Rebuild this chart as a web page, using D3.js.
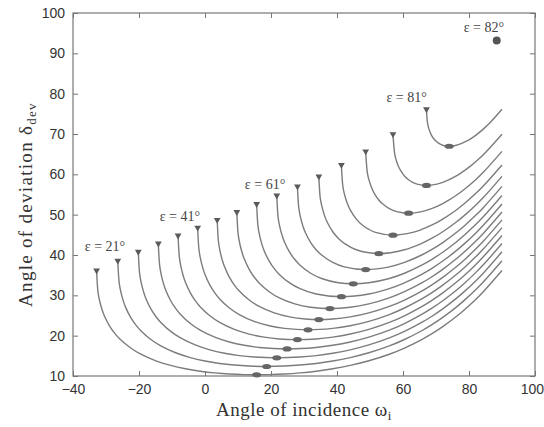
<!DOCTYPE html>
<meta charset="utf-8">
<style>
  body { margin: 0; background: #fff; }
  .tick text { font-family: "Liberation Sans", Arial, sans-serif; font-size: 14px; fill: #333; }
  .tick line { stroke: #777; }
  .title { font-family: "Liberation Serif", "Times New Roman", serif; font-size: 19px; fill: #333; }
  .lab { font-family: "Liberation Serif", "Times New Roman", serif; font-size: 14px; fill: #444; }
</style>
<svg width="544" height="427"></svg>
<script src="https://cdn.jsdelivr.net/npm/d3@7"></script>
<script>
    var svg = d3.select("svg"),
        margin = { top: 13, right: 9, bottom: 51, left: 73 },
        width = +svg.attr("width") - margin.left - margin.right,
        height = +svg.attr("height") - margin.top - margin.bottom,
        g = svg.append("g").attr("transform", "translate(" + margin.left + "," + margin.top + ")");

    // apex angles of the prism, one curve each
    var eps = [21, 25, 29, 33, 37, 41, 45, 49, 53, 57, 61, 65, 69, 73, 77, 81];

    // rows: [incidence on left branch, incidence on right branch, deviation]
    // first row = grazing emergence, last row = minimum deviation
    var curve21 = [[-32.85, 90, 36.15], [-32.44, 84.33, 30.89], [-32.03, 82.02, 28.99], [-31.22, 78.72, 26.50], [-30.41, 76.16, 24.75], [-28.81, 72.05, 22.24], [-27.22, 68.65, 20.43], [-25.64, 65.67, 19.03], [-22.52, 60.45, 16.93], [-19.45, 55.85, 15.40], [-14.89, 49.66, 13.77], [-10.39, 44.01, 12.62], [-5.93, 38.72, 11.79], [-1.48, 33.67, 11.19], [2.96, 28.81, 10.77], [7.41, 24.08, 10.49], [11.89, 19.45, 10.34], [15.65, 15.65, 10.30]];
    var curve25 = [[-26.43, 90, 38.57], [-26.03, 84.33, 33.30], [-25.64, 82.02, 31.38], [-24.86, 78.72, 28.87], [-24.08, 76.16, 27.08], [-22.52, 72.05, 24.53], [-20.98, 68.65, 22.67], [-19.45, 65.67, 21.22], [-16.40, 60.45, 19.05], [-13.39, 55.85, 17.46], [-8.90, 49.66, 15.76], [-4.44, 44.01, 14.57], [0, 38.72, 13.72], [4.44, 33.67, 13.11], [8.90, 28.81, 12.71], [13.39, 24.08, 12.47], [18.68, 18.68, 12.36]];
    var curve29 = [[-20.21, 90, 40.79], [-19.83, 84.33, 35.50], [-19.45, 82.02, 33.57], [-18.68, 78.72, 31.04], [-17.92, 76.16, 29.24], [-16.40, 72.05, 26.65], [-14.89, 68.65, 24.76], [-13.39, 65.67, 23.28], [-10.39, 60.45, 21.06], [-7.41, 55.85, 19.44], [-2.96, 49.66, 17.70], [1.48, 44.01, 16.49], [5.93, 38.72, 15.65], [10.39, 33.67, 15.06], [14.89, 28.81, 14.70], [21.75, 21.75, 14.50]];
    var curve33 = [[-14.14, 90, 42.86], [-13.76, 84.33, 37.57], [-13.39, 82.02, 35.63], [-12.64, 78.72, 33.08], [-11.89, 76.16, 31.27], [-10.39, 72.05, 28.66], [-8.90, 68.65, 26.75], [-7.41, 65.67, 25.26], [-4.44, 60.45, 23.01], [-1.48, 55.85, 21.37], [2.96, 49.66, 19.62], [7.41, 44.01, 18.42], [11.89, 38.72, 17.61], [16.40, 33.67, 17.07], [24.86, 24.86, 16.71]];
    var curve37 = [[-8.16, 90, 44.84], [-7.78, 84.33, 39.55], [-7.41, 82.02, 37.61], [-6.67, 78.72, 35.05], [-5.93, 76.16, 33.23], [-4.44, 72.05, 30.61], [-2.96, 68.65, 28.69], [-1.48, 65.67, 27.19], [1.48, 60.45, 24.93], [4.44, 55.85, 23.29], [8.90, 49.66, 21.56], [13.39, 44.01, 20.40], [17.92, 38.72, 19.64], [22.52, 33.67, 19.19], [28.01, 28.01, 19.02]];
    var curve41 = [[-2.22, 90, 46.78], [-1.85, 84.33, 41.48], [-1.48, 82.02, 39.54], [-0.74, 78.72, 36.98], [0, 76.16, 35.16], [1.48, 72.05, 32.53], [2.96, 68.65, 30.61], [4.44, 65.67, 29.11], [7.41, 60.45, 26.86], [10.39, 55.85, 25.24], [14.89, 49.66, 23.55], [19.45, 44.01, 22.46], [24.08, 38.72, 21.80], [31.22, 31.22, 21.44]];
    var curve45 = [[3.70, 90, 48.70], [4.07, 84.33, 43.40], [4.44, 82.02, 41.46], [5.18, 78.72, 38.90], [5.93, 76.16, 37.09], [7.41, 72.05, 34.46], [8.90, 68.65, 32.55], [10.39, 65.67, 31.06], [13.39, 60.45, 28.84], [16.40, 55.85, 27.25], [20.98, 49.66, 25.64], [25.64, 44.01, 24.65], [30.41, 38.72, 24.13], [34.50, 34.50, 24.00]];
    var curve49 = [[9.65, 90, 50.65], [10.02, 84.33, 45.35], [10.39, 82.02, 43.41], [11.14, 78.72, 40.86], [11.89, 76.16, 39.05], [13.39, 72.05, 36.44], [14.89, 68.65, 34.54], [16.40, 65.67, 33.07], [19.45, 60.45, 30.90], [22.52, 55.85, 29.37], [27.22, 49.66, 27.88], [32.03, 44.01, 27.04], [37.86, 37.86, 26.72]];
    var curve53 = [[15.65, 90, 52.65], [16.03, 84.33, 47.36], [16.40, 82.02, 45.42], [17.16, 78.72, 42.88], [17.92, 76.16, 41.08], [19.45, 72.05, 38.50], [20.98, 68.65, 36.63], [22.52, 65.67, 35.19], [25.64, 60.45, 33.09], [28.81, 55.85, 31.66], [33.67, 49.66, 30.33], [41.33, 41.33, 29.66]];
    var curve57 = [[21.75, 90, 54.75], [22.14, 84.33, 49.47], [22.52, 82.02, 47.54], [23.30, 78.72, 45.02], [24.08, 76.16, 43.24], [25.64, 72.05, 40.69], [27.22, 68.65, 38.87], [28.81, 65.67, 37.48], [32.03, 60.45, 35.48], [35.33, 55.85, 34.18], [40.45, 49.66, 33.11], [44.93, 44.93, 32.86]];
    var curve61 = [[28.01, 90, 57.01], [28.41, 84.33, 51.74], [28.81, 82.02, 49.83], [29.61, 78.72, 47.33], [30.41, 76.16, 45.57], [32.03, 72.05, 43.08], [33.67, 68.65, 41.32], [35.33, 65.67, 40.00], [38.72, 60.45, 38.17], [42.21, 55.85, 37.06], [48.69, 48.69, 36.38]];
    var curve65 = [[34.50, 90, 59.50], [34.91, 84.33, 54.24], [35.33, 82.02, 52.35], [36.17, 78.72, 49.89], [37.01, 76.16, 48.17], [38.72, 72.05, 45.77], [40.45, 68.65, 44.10], [42.21, 65.67, 42.88], [45.85, 60.45, 41.30], [52.67, 52.67, 40.34]];
    var curve69 = [[41.33, 90, 62.33], [41.77, 84.33, 57.10], [42.21, 82.02, 55.23], [43.11, 78.72, 52.83], [44.01, 76.16, 51.17], [45.85, 72.05, 48.90], [47.73, 68.65, 47.38], [49.66, 65.67, 46.33], [51.65, 62.96, 45.61], [56.96, 56.96, 44.92]];
    var curve73 = [[48.69, 90, 65.69], [49.18, 84.33, 60.51], [49.66, 82.02, 58.68], [50.65, 78.72, 56.37], [51.65, 76.16, 54.81], [52.67, 73.98, 53.65], [53.71, 72.05, 52.76], [55.85, 68.65, 51.50], [58.09, 65.67, 50.76], [61.69, 61.69, 50.38]];
    var curve77 = [[56.96, 90, 69.96], [57.53, 84.33, 64.86], [58.09, 82.02, 63.11], [58.67, 80.23, 61.90], [59.26, 78.72, 60.98], [59.85, 77.38, 60.23], [60.45, 76.16, 59.61], [61.69, 73.98, 58.67], [62.96, 72.05, 58.01], [64.28, 70.30, 57.58], [67.12, 67.12, 57.24]];
    var curve81 = [[67.12, 90, 76.12], [67.42, 86.35, 72.77], [67.88, 84.33, 71.21], [68.65, 82.02, 69.67], [69.45, 80.23, 68.68], [70.30, 78.72, 68.02], [71.15, 77.38, 67.53], [72.05, 76.16, 67.21], [72.99, 75.03, 67.02], [73.98, 73.98, 66.96]];

    var curves = [curve21, curve25, curve29, curve33, curve37, curve41, curve45, curve49,
        curve53, curve57, curve61, curve65, curve69, curve73, curve77, curve81];

    // single point (limit case) and text labels
    var singleX = [88.4], singleY = [93.2];
    var labelText = ["\u03b5 = 21\u00b0", "\u03b5 = 41\u00b0", "\u03b5 = 61\u00b0", "\u03b5 = 81\u00b0", "\u03b5 = 82\u00b0"];
    var labelX = [-30.3, -7.6, 18.2, 61.1, 84.5];
    var labelY = [41.0, 48.5, 56.4, 78.0, 95.4];

    var xTicks = [-40, -20, 0, 20, 40, 60, 80, 100];
    var yTicks = [10, 20, 30, 40, 50, 60, 70, 80, 90, 100];

    var x = d3.scaleLinear().domain([-40, 100]).range([0, width]);
    var y = d3.scaleLinear().domain([10, 100]).range([height, 0]);

    // axes, ticks pointing inward on all four sides
    g.append("g").attr("transform", "translate(0," + height + ")")
        .call(d3.axisBottom(x).tickValues(xTicks).tickSize(-5).tickSizeOuter(0).tickPadding(8))
        .call(a => a.select(".domain").remove())
        // last label hugs the right edge of the figure
        .call(a => a.selectAll(".tick text").filter(d => d === 100)
            .attr("text-anchor", "end").attr("dx", 8.5));
    g.append("g")
        .call(d3.axisLeft(y).tickValues(yTicks).tickSize(-5).tickSizeOuter(0).tickPadding(8))
        .call(a => a.select(".domain").remove());
    g.append("g")
        .call(d3.axisTop(x).tickValues(xTicks).tickSize(-5).tickSizeOuter(0).tickFormat(""))
        .call(a => a.select(".domain").remove());
    g.append("g").attr("transform", "translate(" + width + ",0)")
        .call(d3.axisRight(y).tickValues(yTicks).tickSize(-5).tickSizeOuter(0).tickFormat(""))
        .call(a => a.select(".domain").remove());

    g.append("rect")
        .attr("width", width).attr("height", height)
        .attr("fill", "none").attr("stroke", "#777").attr("stroke-width", 1.2);

    var line = d3.line()
        .x(function (d) { return x(d[0]); })
        .y(function (d) { return y(d[1]); })
        .curve(d3.curveCatmullRom.alpha(0.5));

    function branchPoints(rows) {
        var left = rows.map(function (r) { return [r[0], r[2]]; });
        var right = rows.slice(0, -1).reverse().map(function (r) { return [r[1], r[2]]; });
        return left.concat(right);
    }

    g.append("g").selectAll("path")
        .data(curves)
        .enter().append("path")
        .attr("d", function (d) { return line(branchPoints(d)); })
        .attr("fill", "none")
        .attr("stroke", "#7c7c7c")
        .attr("stroke-width", 1.4);

    // grazing-emergence markers
    g.append("g").selectAll("path")
        .data(curves)
        .enter().append("path")
        .attr("d", d3.symbol().type(d3.symbolTriangle).size(20))
        .attr("transform", function (d) {
            return "translate(" + x(d[0][0]) + "," + y(d[0][2]) + ") rotate(180)";
        })
        .attr("fill", "#5a5a5a");

    // minimum-deviation markers
    g.append("g").selectAll("ellipse")
        .data(curves)
        .enter().append("ellipse")
        .attr("cx", function (d) { return x(d[d.length - 1][0]); })
        .attr("cy", function (d) { return y(d[d.length - 1][2]); })
        .attr("rx", 4.5).attr("ry", 2.6)
        .attr("fill", "#666");

    g.selectAll(".single")
        .data(singleX)
        .enter().append("circle")
        .attr("class", "single")
        .attr("cx", function (d) { return x(d); })
        .attr("cy", function (d, i) { return y(singleY[i]); })
        .attr("r", 4)
        .attr("fill", "#555");

    g.selectAll(".lab")
        .data(labelText)
        .enter().append("text")
        .attr("class", "lab")
        .attr("x", function (d, i) { return x(labelX[i]); })
        .attr("y", function (d, i) { return y(labelY[i]); })
        .attr("text-anchor", "middle")
        .text(function (d) { return d; });

    // axis titles
    var xt = svg.append("text").attr("class", "title")
        .attr("x", margin.left + width / 2).attr("y", 416)
        .attr("text-anchor", "middle").style("letter-spacing", "0.5px");
    xt.append("tspan").text("Angle of incidence \u03c9");
    xt.append("tspan").attr("dy", 4).style("font-size", "13px").text("i");

    var yt = svg.append("text").attr("class", "title")
        .attr("transform", "translate(32," + (margin.top + height / 2 + 10) + ") rotate(-90)")
        .attr("text-anchor", "middle").style("letter-spacing", "1.3px");
    yt.append("tspan").text("Angle of deviation \u03b4");
    yt.append("tspan").attr("dy", 4).style("font-size", "13px").text("dev");
</script>
